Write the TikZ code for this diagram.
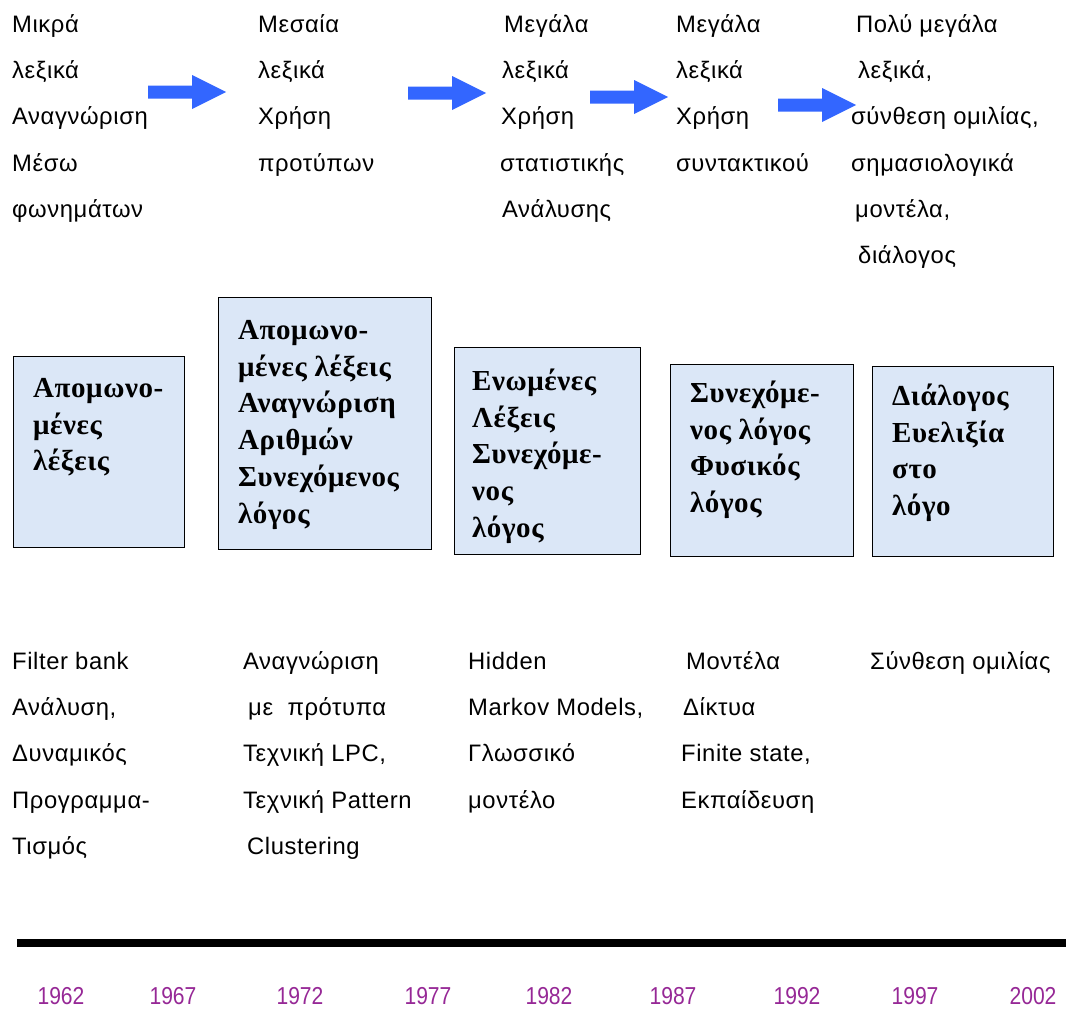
\documentclass[tikz,border=0pt]{standalone}
\usepackage{fontspec}
\setmainfont{Liberation Sans}
\newfontfamily\labelfont[LetterSpace=2.5]{Liberation Sans}
\newfontfamily\boxfont[LetterSpace=2]{Liberation Serif}
\usetikzlibrary{calc}
\definecolor{arrowblue}{RGB}{51,102,255}
\definecolor{boxfill}{RGB}{219,231,247}
\definecolor{yearpurple}{RGB}{150,40,150}
% fixed height of the first line, so that node tops sit a known distance above the first baseline
\newcommand\lineone{\rule{0pt}{25pt}}

\begin{document}
\begin{tikzpicture}[x=1pt,y=-1pt,
  label/.style={anchor=north west,inner sep=0pt,align=left,
    font=\labelfont\fontsize{23.8}{46.3}\selectfont},
  boxlabel/.style={anchor=north west,inner sep=0pt,align=left,
    font=\boxfont\bfseries\fontsize{29}{36.8}\selectfont},
  stagebox/.style={draw=black,line width=1.4pt,fill=boxfill,anchor=north west,inner sep=0pt},
  year/.style={inner sep=0pt,font=\fontsize{24.5}{24.5}\selectfont,text=yearpurple},
  blockarrow/.pic={\fill[arrowblue] (0,-6.5) -- (44,-6.5) -- (44,-17) -- (78,0)
      -- (44,17) -- (44,6.5) -- (0,6.5) -- cycle;},
]
\useasboundingbox (0,0) rectangle (1066,1009);

% ---- vocabulary sizes and methods ----
\node[label] (t1) at (12,7) {\lineone Μικρά\\λεξικά\\Αναγνώριση\\Μέσω\\φωνημάτων};
\node[label] (t2) at (258,7) {\lineone Μεσαία\\λεξικά\\Χρήση\\προτύπων};
\node[label] (t3) at (500,7) {\lineone\hspace*{4pt}Μεγάλα\\\hspace*{2pt}λεξικά\\\hspace*{1pt}Χρήση\\στατιστικής\\\hspace*{2pt}Ανάλυσης};
\node[label] (t4) at (676,7) {\lineone Μεγάλα\\λεξικά\\Χρήση\\συντακτικού};
\node[label] (t5) at (851,7) {\lineone\hspace*{5pt}Πολύ μεγάλα\\\hspace*{7pt}λεξικά,\\σύνθεση ομιλίας,\\σημασιολογικά\\\hspace*{4pt}μοντέλα,\\\hspace*{7pt}διάλογος};

\pic at (148,92) {blockarrow};
\pic at (408,93) {blockarrow};
\pic at (590,97) {blockarrow};
\pic at (778,105) {blockarrow};

% ---- recognition tasks ----
\node[stagebox,minimum width=171pt,minimum height=191pt] (b1) at (13,356) {};
\node[stagebox,minimum width=213pt,minimum height=252pt] (b2) at (218,297) {};
\node[stagebox,minimum width=186pt,minimum height=207pt] (b3) at (454,347) {};
\node[stagebox,minimum width=183pt,minimum height=192pt] (b4) at (670,364) {};
\node[stagebox,minimum width=181pt,minimum height=190pt] (b5) at (872,366) {};

\node[boxlabel] (bt1) at ($(b1.north west)+(20,16)$) {\lineone Απομωνο-\\μένες\\λέξεις};
\node[boxlabel] (bt2) at ($(b2.north west)+(20,17)$) {\lineone Απομωνο-\\μένες λέξεις\\Αναγνώριση\\Αριθμών\\Συνεχόμενος\\λόγος};
\node[boxlabel] (bt3) at ($(b3.north west)+(18,18)$) {\lineone Ενωμένες\\Λέξεις\\Συνεχόμε-\\νος\\λόγος};
\node[boxlabel] (bt4) at ($(b4.north west)+(20,13)$) {\lineone Συνεχόμε-\\νος λόγος\\Φυσικός\\λόγος};
\node[boxlabel] (bt5) at ($(b5.north west)+(20,14)$) {\lineone Διάλογος\\Ευελιξία\\στο\\λόγο};

% ---- techniques ----
\node[label] (m1) at (12,644) {\lineone Filter bank\\Ανάλυση,\\Δυναμικός\\Προγραμμα-\\Τισμός};
\node[label] (m2) at (243,644) {\lineone Αναγνώριση\\\hspace*{5pt}με\ \ πρότυπα\\Τεχνική LPC,\\Τεχνική Pattern\\\hspace*{4pt}Clustering};
\node[label] (m3) at (468,644) {\lineone Hidden\\Markov Models,\\Γλωσσικό\\μοντέλο};
\node[label] (m4) at (681,644) {\lineone\hspace*{5pt}Μοντέλα\\\hspace*{2pt}Δίκτυα\\Finite state,\\Εκπαίδευση};
\node[label] (m5) at (870,644) {\lineone Σύνθεση ομιλίας};

% ---- time axis ----
\coordinate (axisstart) at (17,943);
\coordinate (axisend) at (1066,943);
\draw[line width=7.5pt] (axisstart) -- (axisend);

\foreach \yr/\xc in {1962/61,1967/173,1972/300,1977/428,1982/549,1987/673,1992/797,1997/915,2002/1033}
  \node[year] (y\yr) at (\xc,996) {\scalebox{0.86}[1]{\yr}};
\end{tikzpicture}
\end{document}
